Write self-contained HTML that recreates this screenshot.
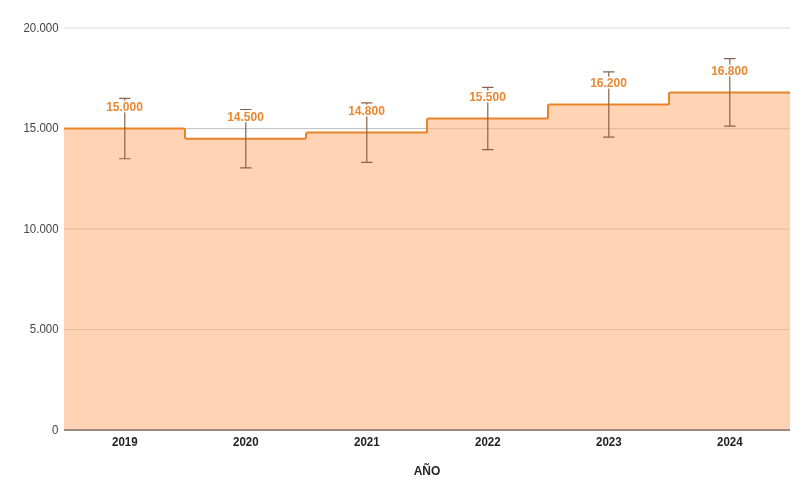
<!DOCTYPE html><html><head><meta charset="utf-8"><title>Chart</title><style>html,body{margin:0;padding:0;background:#fff}svg{display:block}text{font-family:"Liberation Sans",Arial,sans-serif;font-size:12px}</style></head><body>
<svg width="810" height="500" viewBox="0 0 810 500">
<g>
<rect width="810" height="500" fill="#fff"/>
<rect x="64.0" y="329.10" width="726.0" height="1" fill="#dadada"/>
<rect x="64.0" y="228.60" width="726.0" height="1" fill="#dadada"/>
<rect x="64.0" y="128.10" width="726.0" height="1" fill="#dadada"/>
<rect x="64.0" y="27.60" width="726.0" height="1" fill="#dadada"/>
<path d="M64.0,430.1 L64.00,128.60 L185.00,128.60 L185.00,138.65 L306.00,138.65 L306.00,132.62 L427.00,132.62 L427.00,118.55 L548.00,118.55 L548.00,104.48 L669.00,104.48 L669.00,92.42 L790.00,92.42 L790.0,430.1 Z" fill="#ffd3b3"/>
<rect x="64.0" y="329.10" width="726.0" height="1" fill="#000" fill-opacity="0.12"/>
<rect x="64.0" y="228.60" width="726.0" height="1" fill="#000" fill-opacity="0.12"/>
<rect x="64.0" y="128.10" width="726.0" height="1" fill="#000" fill-opacity="0.12"/>
<path d="M64.00,128.60 L183.40,128.60 Q185.00,128.60 185.00,130.20 L185.00,137.05 Q185.00,138.65 186.60,138.65 L304.40,138.65 Q306.00,138.65 306.00,137.05 L306.00,134.22 Q306.00,132.62 307.60,132.62 L425.40,132.62 Q427.00,132.62 427.00,131.02 L427.00,120.15 Q427.00,118.55 428.60,118.55 L546.40,118.55 Q548.00,118.55 548.00,116.95 L548.00,106.08 Q548.00,104.48 549.60,104.48 L667.40,104.48 Q669.00,104.48 669.00,102.88 L669.00,94.02 Q669.00,92.42 670.60,92.42 L790.00,92.42" fill="none" stroke="#e8832a" stroke-width="2" stroke-linejoin="round"/>
<rect x="64.0" y="429.40" width="726.0" height="1.3" fill="#6b5a50"/>
<path d="M124.80,98.45 L124.80,158.75 M119.10,98.45 L130.50,98.45 M119.10,158.75 L130.50,158.75" stroke="#8a6148" stroke-width="1.2" fill="none"/>
<path d="M245.80,109.50 L245.80,167.80 M240.10,109.50 L251.50,109.50 M240.10,167.80 L251.50,167.80" stroke="#8a6148" stroke-width="1.2" fill="none"/>
<path d="M366.80,102.87 L366.80,162.37 M361.10,102.87 L372.50,102.87 M361.10,162.37 L372.50,162.37" stroke="#8a6148" stroke-width="1.2" fill="none"/>
<path d="M487.80,87.40 L487.80,149.71 M482.10,87.40 L493.50,87.40 M482.10,149.71 L493.50,149.71" stroke="#8a6148" stroke-width="1.2" fill="none"/>
<path d="M608.80,71.92 L608.80,137.04 M603.10,71.92 L614.50,71.92 M603.10,137.04 L614.50,137.04" stroke="#8a6148" stroke-width="1.2" fill="none"/>
<path d="M729.80,58.65 L729.80,126.19 M724.10,58.65 L735.50,58.65 M724.10,126.19 L735.50,126.19" stroke="#8a6148" stroke-width="1.2" fill="none"/>
<text x="124.50" y="111.10" text-anchor="middle" font-weight="bold" fill="#ea8830" stroke="#fff" stroke-width="3" stroke-linejoin="round" paint-order="stroke">15.000</text>
<text x="245.50" y="121.15" text-anchor="middle" font-weight="bold" fill="#ea8830" stroke="#fff" stroke-width="3" stroke-linejoin="round" paint-order="stroke">14.500</text>
<text x="366.50" y="115.12" text-anchor="middle" font-weight="bold" fill="#ea8830" stroke="#fff" stroke-width="3" stroke-linejoin="round" paint-order="stroke">14.800</text>
<text x="487.50" y="101.05" text-anchor="middle" font-weight="bold" fill="#ea8830" stroke="#fff" stroke-width="3" stroke-linejoin="round" paint-order="stroke">15.500</text>
<text x="608.50" y="86.98" text-anchor="middle" font-weight="bold" fill="#ea8830" stroke="#fff" stroke-width="3" stroke-linejoin="round" paint-order="stroke">16.200</text>
<text x="729.50" y="74.92" text-anchor="middle" font-weight="bold" fill="#ea8830" stroke="#fff" stroke-width="3" stroke-linejoin="round" paint-order="stroke">16.800</text>
<text transform="translate(58.5,433.90) scale(0.955,1)" text-anchor="end" fill="#444444">0</text>
<text transform="translate(58.5,333.40) scale(0.955,1)" text-anchor="end" fill="#444444">5.000</text>
<text transform="translate(58.5,232.90) scale(0.955,1)" text-anchor="end" fill="#444444">10.000</text>
<text transform="translate(58.5,132.40) scale(0.955,1)" text-anchor="end" fill="#444444">15.000</text>
<text transform="translate(58.5,31.90) scale(0.955,1)" text-anchor="end" fill="#444444">20.000</text>
<text transform="translate(124.80,445.7) scale(0.96,1)" text-anchor="middle" font-weight="bold" fill="#222222">2019</text>
<text transform="translate(245.80,445.7) scale(0.96,1)" text-anchor="middle" font-weight="bold" fill="#222222">2020</text>
<text transform="translate(366.80,445.7) scale(0.96,1)" text-anchor="middle" font-weight="bold" fill="#222222">2021</text>
<text transform="translate(487.80,445.7) scale(0.96,1)" text-anchor="middle" font-weight="bold" fill="#222222">2022</text>
<text transform="translate(608.80,445.7) scale(0.96,1)" text-anchor="middle" font-weight="bold" fill="#222222">2023</text>
<text transform="translate(729.80,445.7) scale(0.96,1)" text-anchor="middle" font-weight="bold" fill="#222222">2024</text>
<text x="427" y="474.8" text-anchor="middle" font-weight="bold" fill="#222222">AÑO</text>
</g></svg></body></html>
